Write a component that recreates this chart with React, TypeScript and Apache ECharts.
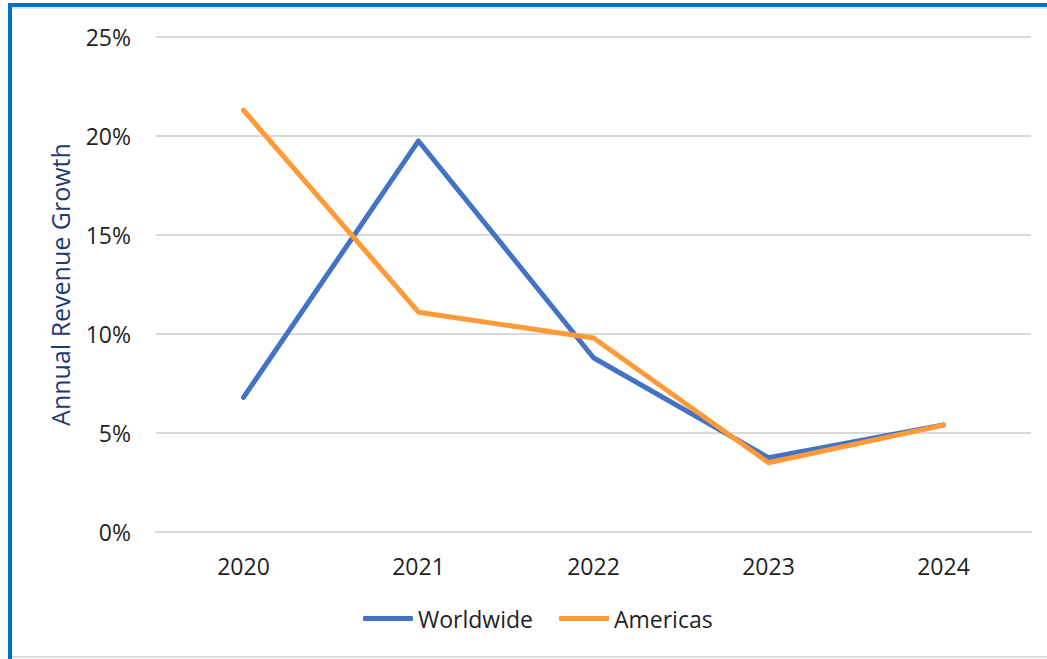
import React, { useEffect, useRef } from "react";
import * as echarts from "echarts";

const years = ["2020", "2021", "2022", "2023", "2024"];
const worldwide = [6.8, 19.75, 8.8, 3.75, 5.4];
const americas = [21.3, 11.1, 9.8, 3.5, 5.4];
const yTicks = { min: 0, max: 25, interval: 5 };

const FONT = "'Open Sans', 'Noto Sans', sans-serif";
const TEXT = "#1f1f1f";
const GRID = "#d9d9d9";

export default function App() {
  const ref = useRef<HTMLDivElement>(null);

  useEffect(() => {
    if (!ref.current) return;
    const chart = echarts.init(ref.current, null, { renderer: "svg" });
    chart.setOption({
      animation: false,
      backgroundColor: "#ffffff",
      textStyle: { fontFamily: FONT },
      grid: { left: 156, right: 16, top: 37, bottom: 127 },
      graphic: [
        { type: "rect", shape: { x: 8, y: 3, width: 1039, height: 4 }, style: { fill: "#0070C0" } },
        { type: "rect", shape: { x: 8, y: 7, width: 1039, height: 2 }, style: { fill: "#e6e6e6" } },
        { type: "rect", shape: { x: 8, y: 3, width: 4, height: 656 }, style: { fill: "#0070C0" } },
        { type: "rect", shape: { x: 12, y: 656, width: 1035, height: 2 }, style: { fill: "#dcdcdc" } },
      ],
      legend: {
        top: 602,
        left: 358,
        icon: "roundRect",
        itemWidth: 50,
        itemHeight: 5,
        itemGap: 26,
        textStyle: { fontFamily: FONT, fontSize: 23, color: TEXT },
        data: ["Worldwide", "Americas"],
      },
      xAxis: {
        type: "category",
        data: years,
        boundaryGap: true,
        axisLine: { show: true, lineStyle: { color: GRID, width: 2 } },
        axisTick: { show: false },
        axisLabel: { fontFamily: FONT, fontSize: 23, color: TEXT, margin: 22 },
      },
      yAxis: {
        type: "value",
        min: yTicks.min,
        max: yTicks.max,
        interval: yTicks.interval,
        name: "Annual Revenue Growth",
        nameLocation: "middle",
        nameRotate: 90,
        nameGap: 84,
        nameTextStyle: { fontFamily: FONT, fontSize: 25, color: "#1F3B73" },
        axisLine: { show: false },
        axisTick: { show: false },
        splitLine: { lineStyle: { color: GRID, width: 2 } },
        axisLabel: { formatter: "{value}%", fontFamily: FONT, fontSize: 23, color: TEXT, margin: 25 },
      },
      series: [
        {
          name: "Worldwide",
          type: "line",
          data: worldwide,
          symbol: "none",
          itemStyle: { color: "#4472C4" },
          lineStyle: { color: "#4472C4", width: 5, cap: "round", join: "round" },
        },
        {
          name: "Americas",
          type: "line",
          data: americas,
          symbol: "none",
          itemStyle: { color: "#FF9A38" },
          lineStyle: { color: "#FF9A38", width: 5, cap: "round", join: "round" },
        },
      ],
    });
    return () => chart.dispose();
  }, []);

  return (
    <div
      ref={ref}
      style={{ position: "fixed", left: 0, top: 0, width: 1047, height: 659 }}
    />
  );
}
